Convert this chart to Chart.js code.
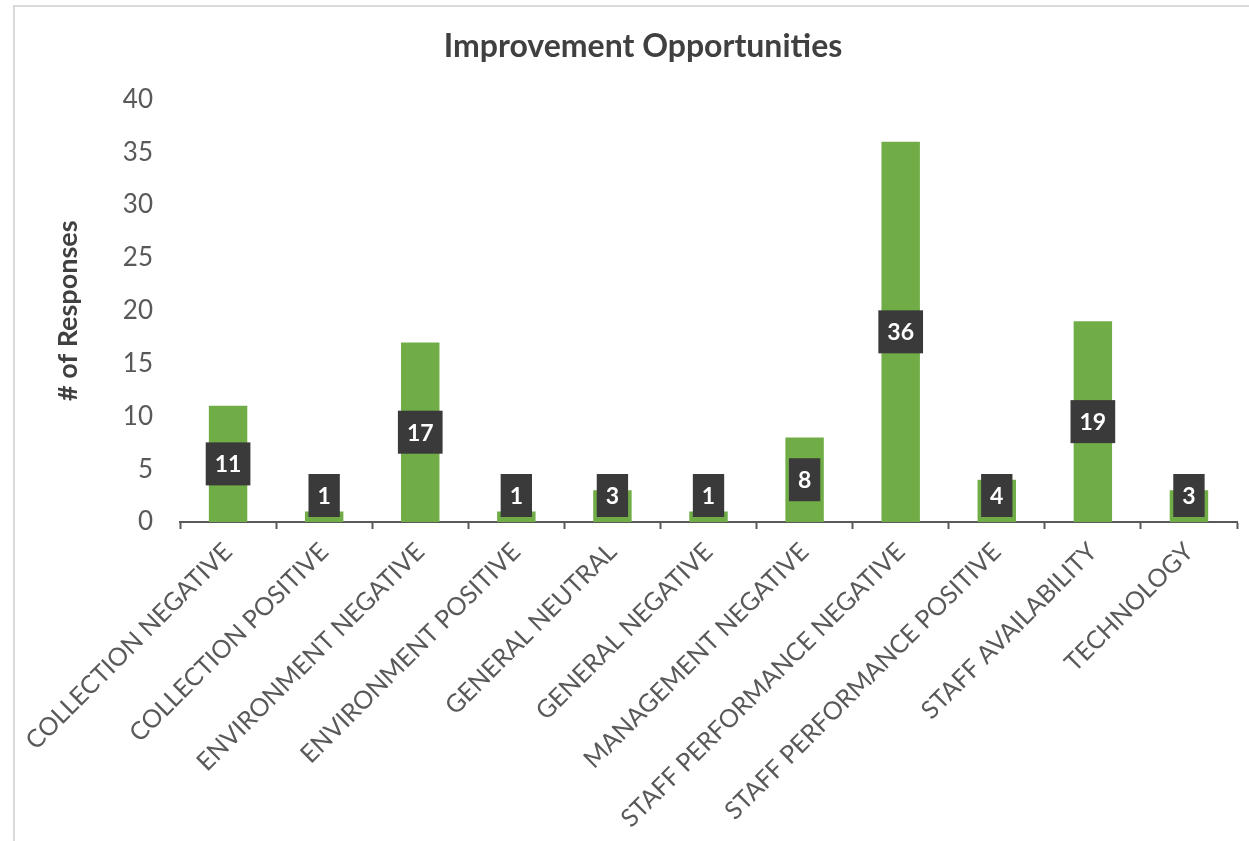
<!DOCTYPE html>
<html>
<head>
<meta charset="utf-8">
<title>Improvement Opportunities</title>
<script src="https://cdn.jsdelivr.net/npm/chart.js@4.4.1/dist/chart.umd.min.js"></script>
<style>
  html, body { margin: 0; padding: 0; background: #fff; overflow: hidden; }
  #frame {
    position: absolute; left: 13px; top: 5px;
    width: 1246px; height: 900px;
    border: 2px solid #d9d9d9;
  }
  #wrap { position: relative; width: 1246px; height: 834px; }
</style>
</head>
<body>
<div id="frame">
  <div id="wrap"><canvas id="chart"></canvas></div>
</div>
<script>
/* ---------- data ---------- */
const categories = [
  "COLLECTION NEGATIVE",
  "COLLECTION POSITIVE",
  "ENVIRONMENT NEGATIVE",
  "ENVIRONMENT POSITIVE",
  "GENERAL NEUTRAL",
  "GENERAL NEGATIVE",
  "MANAGEMENT NEGATIVE",
  "STAFF PERFORMANCE NEGATIVE",
  "STAFF PERFORMANCE POSITIVE",
  "STAFF AVAILABILITY",
  "TECHNOLOGY"
];
const responses = [11, 1, 17, 1, 3, 1, 8, 36, 4, 19, 3];
const yTicks = [0, 5, 10, 15, 20, 25, 30, 35, 40];

const FONT = "Lato";

/* ---------- value boxes centred on each bar ---------- */
const valueBoxes = {
  id: "valueBoxes",
  afterDatasetsDraw(chart){
    const ctx = chart.ctx;
    const meta = chart.getDatasetMeta(0);
    ctx.save();
    ctx.font = "bold 23px " + FONT;
    ctx.textAlign = "center";
    ctx.textBaseline = "middle";
    meta.data.forEach((bar, i) => {
      const txt = String(chart.data.datasets[0].data[i]);
      const w = ctx.measureText(txt).width + 18;
      const h = 43;
      // keep small bars' boxes sitting just above the axis
      let cy = (bar.y + bar.base) / 2;
      cy = Math.min(cy, bar.base - 5 - h / 2);
      ctx.fillStyle = "#3a3a3a";
      ctx.fillRect(bar.x - w / 2, cy - h / 2, w, h);
      ctx.fillStyle = "#ffffff";
      ctx.fillText(txt, bar.x, cy + 1);
    });
    ctx.restore();
  }
};

const ctx = document.getElementById("chart").getContext("2d");

new Chart(ctx, {
  type: "bar",
  data: {
    labels: categories,
    datasets: [{
      label: "# of Responses",
      data: responses,
      backgroundColor: "#70ad47",
      barPercentage: 0.4,
      categoryPercentage: 1.0
    }]
  },
  options: {
    responsive: true,
    maintainAspectRatio: false,
    animation: false,
    layout: { padding: { top: 14, left: 34, right: 24, bottom: 0 } },
    plugins: {
      legend: { display: false },
      tooltip: { enabled: false },
      title: {
        display: true,
        text: "Improvement Opportunities",
        color: "#404040",
        font: { family: FONT, size: 32, weight: "bold" },
        padding: { top: 6, bottom: 34 }
      }
    },
    scales: {
      x: {
        grid: {
          display: true,
          drawOnChartArea: false,
          drawTicks: true,
          tickLength: 7,
          tickWidth: 2,
          color: "#595959",
          offset: true
        },
        border: { display: true, color: "#595959", width: 2 },
        ticks: {
          autoSkip: false,
          minRotation: 45,
          maxRotation: 45,
          padding: 8,
          color: "#595959",
          font: { family: FONT, size: 25 }
        },
        afterFit(scale){ scale.height = 319; }
      },
      y: {
        min: 0,
        max: 40,
        afterBuildTicks(scale){ scale.ticks = yTicks.map(v => ({ value: v })); },
        grid: { display: false, drawTicks: false },
        border: { display: false },
        ticks: {
          padding: 27,
          color: "#595959",
          font: { family: FONT, size: 26 }
        },
        title: {
          display: true,
          text: "# of Responses",
          color: "#404040",
          font: { family: FONT, size: 27, weight: "bold" },
          padding: 0
        },
        afterFit(scale){ scale.width = 128; }
      }
    }
  },
  plugins: [valueBoxes]
});
</script>
</body>
</html>
